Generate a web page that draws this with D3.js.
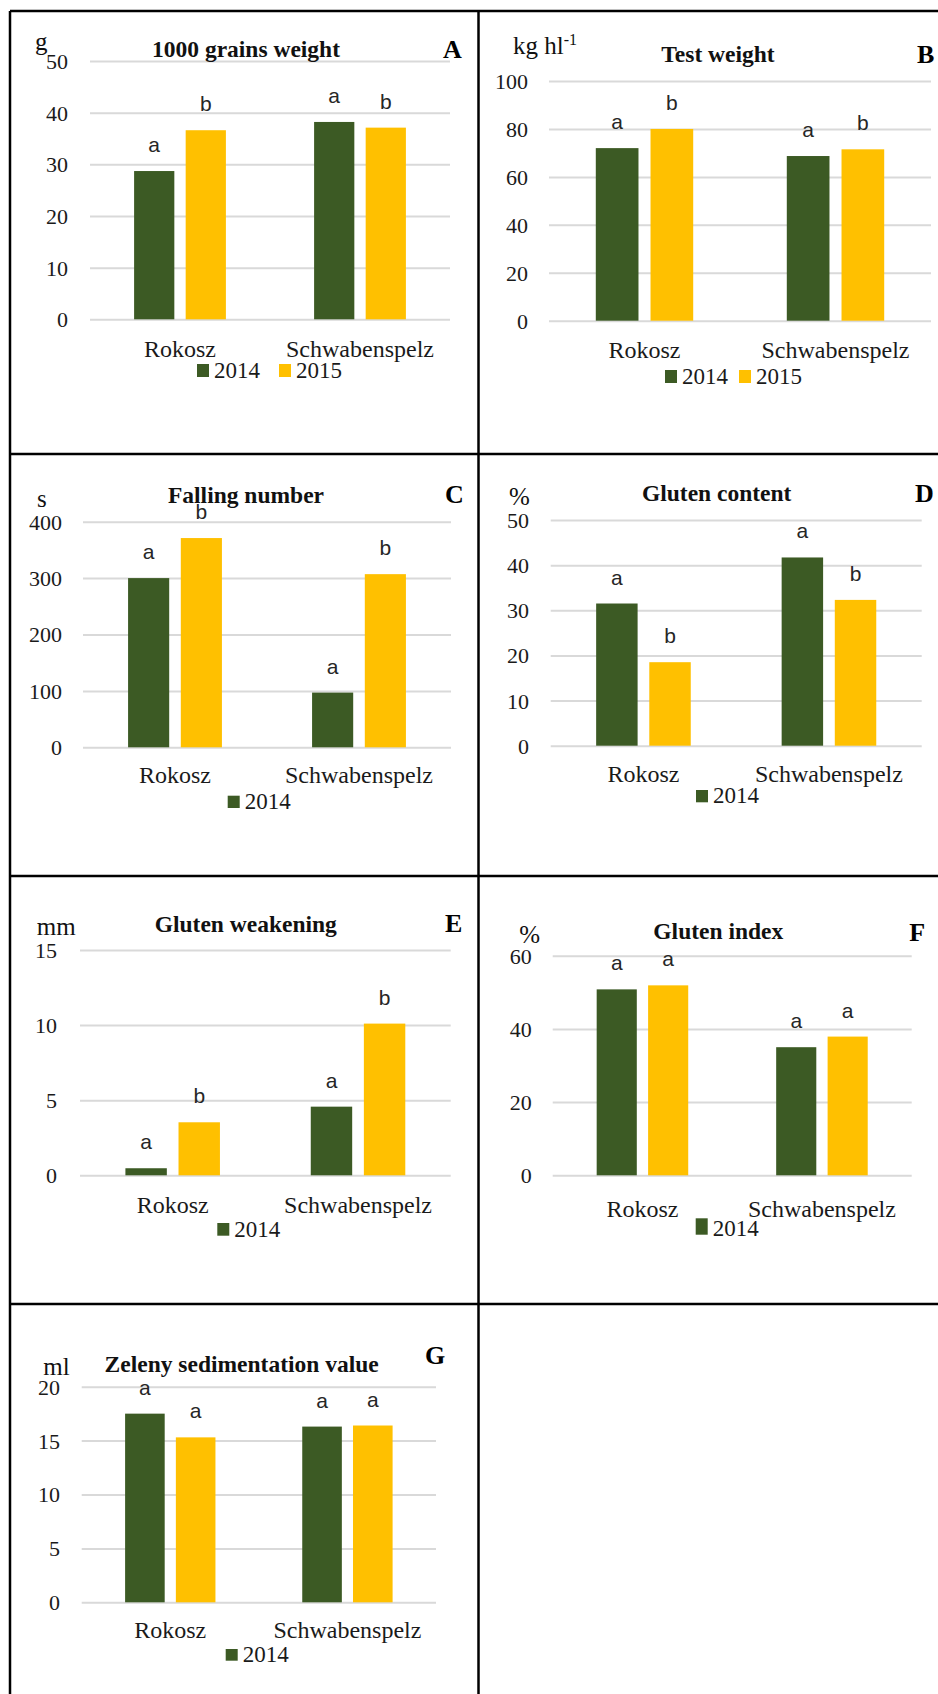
<!DOCTYPE html>
<html>
<head>
<meta charset="utf-8">
<script src="https://cdn.jsdelivr.net/npm/d3@7"></script>
<style>
  html, body { margin: 0; padding: 0; background: #fff; }
  svg { display: block; }
</style>
</head>
<body>
<div id="chart"></div>
<script>
// ---------------- DATA ----------------
const categories = ["Rokosz", "Schwabenspelz"];
const years = ["2014", "2015"];

const grains2014 = [28.7, 38.2];
const grains2015 = [36.6, 37.1];
const grainsSig2014 = ["a", "a"];
const grainsSig2015 = ["b", "b"];
const grainsTicks = [0, 10, 20, 30, 40, 50];

const testWeight2014 = [72.0, 68.7];
const testWeight2015 = [80.0, 71.5];
const testWeightSig2014 = ["a", "a"];
const testWeightSig2015 = ["b", "b"];
const testWeightTicks = [0, 20, 40, 60, 80, 100];

const falling2014 = [300, 97];
const falling2015 = [371, 307];
const fallingSig2014 = ["a", "a"];
const fallingSig2015 = ["b", "b"];
const fallingTicks = [0, 100, 200, 300, 400];

const glutenContent2014 = [31.5, 41.7];
const glutenContent2015 = [18.5, 32.3];
const glutenContentSig2014 = ["a", "a"];
const glutenContentSig2015 = ["b", "b"];
const glutenContentTicks = [0, 10, 20, 30, 40, 50];

const weakening2014 = [0.47, 4.57];
const weakening2015 = [3.53, 10.1];
const weakeningSig2014 = ["a", "a"];
const weakeningSig2015 = ["b", "b"];
const weakeningTicks = [0, 5, 10, 15];

const glutenIndex2014 = [50.8, 35.0];
const glutenIndex2015 = [51.9, 37.9];
const glutenIndexSig2014 = ["a", "a"];
const glutenIndexSig2015 = ["a", "a"];
const glutenIndexTicks = [0, 20, 40, 60];

const zeleny2014 = [17.5, 16.3];
const zeleny2015 = [15.3, 16.4];
const zelenySig2014 = ["a", "a"];
const zelenySig2015 = ["a", "a"];
const zelenyTicks = [0, 5, 10, 15, 20];

const legendTwo = ["2014", "2015"];
const legendOne = ["2014"];

// ---------------- STYLE ----------------
const W = 938, H = 1694;
const colors = { "2014": "#3C5A24", "2015": "#FFC000" };
const serif = "'Liberation Serif', 'Times New Roman', serif";
const sans = "'Liberation Sans', Arial, sans-serif";
const gridColor = "#D9D9D9";

// ---------------- LAYOUT (per panel) ----------------
const panels = [
  { title: "1000 grains weight", unit: "g", letter: "A",
    v: [grains2014, grains2015], sig: [grainsSig2014, grainsSig2015], ticks: grainsTicks, legend: legendTwo,
    x0: 90, x1: 450, yTop: 61, yBot: 319.3, tickX: 68,
    titleX: 246, titleY: 57, unitX: 35, unitY: 50, letterX: 443, letterY: 58,
    catY: 357, legX: [197, 279], legTop: 364, legBase: 378 },
  { title: "Test weight", unit: "kg hl", unitSup: "-1", letter: "B",
    v: [testWeight2014, testWeight2015], sig: [testWeightSig2014, testWeightSig2015], ticks: testWeightTicks, legend: legendTwo,
    x0: 549, x1: 931, yTop: 81, yBot: 320.7, tickX: 528,
    titleX: 718, titleY: 61.5, unitX: 513, unitY: 53.5, letterX: 917, letterY: 63,
    catY: 358, legX: [665, 739], legTop: 370, legBase: 384 },
  { title: "Falling number", unit: "s", letter: "C",
    v: [falling2014, falling2015], sig: [fallingSig2014, fallingSig2015], ticks: fallingTicks, legend: legendOne,
    x0: 83, x1: 451, yTop: 521.7, yBot: 747.3, tickX: 62,
    titleX: 246, titleY: 503, unitX: 37, unitY: 506.5, letterX: 445, letterY: 503,
    catY: 783, legX: [227.7], legTop: 795.7, legBase: 809 },
  { title: "Gluten content", unit: "%", letter: "D",
    v: [glutenContent2014, glutenContent2015], sig: [glutenContentSig2014, glutenContentSig2015], ticks: glutenContentTicks, legend: legendOne,
    x0: 550.7, x1: 921.7, yTop: 520, yBot: 745.7, tickX: 529,
    titleX: 716.7, titleY: 500.5, unitX: 509, unitY: 505, letterX: 915, letterY: 501.7,
    catY: 781.7, legX: [696], legTop: 790, legBase: 803.3 },
  { title: "Gluten weakening", unit: "mm", letter: "E",
    v: [weakening2014, weakening2015], sig: [weakeningSig2014, weakeningSig2015], ticks: weakeningTicks, legend: legendOne,
    x0: 80, x1: 450.7, yTop: 950, yBot: 1175.3, tickX: 57,
    titleX: 245.8, titleY: 931.7, unitX: 36.7, unitY: 935, letterX: 445, letterY: 931.7,
    catY: 1212.7, legX: [217.3], legTop: 1223, legBase: 1236.7 },
  { title: "Gluten index", unit: "%", letter: "F",
    v: [glutenIndex2014, glutenIndex2015], sig: [glutenIndexSig2014, glutenIndexSig2015], ticks: glutenIndexTicks, legend: legendOne,
    x0: 552.7, x1: 911.7, yTop: 955.7, yBot: 1175.3, tickX: 531.7,
    titleX: 718.3, titleY: 939, unitX: 519.3, unitY: 943.3, letterX: 909.3, letterY: 941,
    catY: 1216.7, legX: [695.7], legTop: 1218.3, legBase: 1235.7 },
  { title: "Zeleny sedimentation value", unit: "ml", letter: "G",
    v: [zeleny2014, zeleny2015], sig: [zelenySig2014, zelenySig2015], ticks: zelenyTicks, legend: legendOne,
    x0: 81.7, x1: 436, yTop: 1386.7, yBot: 1602.3, tickX: 60,
    titleX: 241.7, titleY: 1371.7, unitX: 43.3, unitY: 1375, letterX: 425, letterY: 1364.3,
    catY: 1638.3, legX: [225.7], legTop: 1649, legBase: 1661.7 }
];

// ---------------- DRAW ----------------
const svg = d3.select("#chart").append("svg")
  .attr("width", W).attr("height", H)
  .attr("viewBox", `0 0 ${W} ${H}`);

svg.append("rect").attr("width", W).attr("height", H).attr("fill", "#fff");

// table frame
const frame = svg.append("g").attr("stroke", "#000").attr("stroke-width", 2.5);
frame.append("line").attr("x1", 10).attr("x2", W).attr("y1", 11).attr("y2", 11);
frame.append("line").attr("x1", 10).attr("x2", 10).attr("y1", 11).attr("y2", H);
frame.append("line").attr("x1", 478.5).attr("x2", 478.5).attr("y1", 11).attr("y2", H);
[454, 876, 1304].forEach(y =>
  frame.append("line").attr("x1", 10).attr("x2", W).attr("y1", y).attr("y2", y));

panels.forEach(p => {
  const g = svg.append("g");
  const yMax = p.ticks[p.ticks.length - 1];
  const y = d3.scaleLinear().domain([0, yMax]).range([p.yBot, p.yTop]);
  const x = d3.scaleBand().domain(categories).range([p.x0, p.x1])
    .paddingInner(0.49).paddingOuter(0.245);
  const xi = d3.scaleBand().domain(years).range([0, x.bandwidth()])
    .paddingInner(0.22).paddingOuter(0);

  // gridlines + tick labels via axis
  const axis = d3.axisLeft(y).tickValues(p.ticks)
    .tickSize(-(p.x1 - p.x0)).tickPadding(p.x0 - p.tickX).tickFormat(d3.format("d"));
  const ag = g.append("g").attr("transform", `translate(${p.x0},0)`).call(axis);
  ag.select(".domain").remove();
  ag.selectAll(".tick line").attr("stroke", gridColor).attr("stroke-width", 2);
  ag.selectAll(".tick text")
    .attr("font-family", serif).attr("font-size", 22).attr("fill", "#1a1a1a")
    .attr("dy", "0.34em");

  // bars
  const rows = [];
  categories.forEach((c, ci) => years.forEach((yr, yi) =>
    rows.push({ c, yr, val: p.v[yi][ci], sig: p.sig[yi][ci] })));

  g.selectAll("rect.bar").data(rows).enter().append("rect")
    .attr("class", "bar")
    .attr("x", d => x(d.c) + xi(d.yr))
    .attr("width", xi.bandwidth())
    .attr("y", d => y(d.val))
    .attr("height", d => y(0) - y(d.val))
    .attr("fill", d => colors[d.yr]);

  // significance letters
  g.selectAll("text.sig").data(rows).enter().append("text")
    .attr("class", "sig")
    .attr("x", d => x(d.c) + xi(d.yr) + xi.bandwidth() / 2)
    .attr("y", d => y(d.val) - 19)
    .attr("text-anchor", "middle")
    .attr("font-family", sans).attr("font-size", 21).attr("fill", "#262626")
    .text(d => d.sig);

  // category labels
  g.selectAll("text.cat").data(categories).enter().append("text")
    .attr("class", "cat")
    .attr("x", d => x(d) + x.bandwidth() / 2)
    .attr("y", p.catY)
    .attr("text-anchor", "middle")
    .attr("font-family", serif).attr("font-size", 24).attr("fill", "#1a1a1a")
    .text(d => d);

  // title
  g.append("text").attr("x", p.titleX).attr("y", p.titleY)
    .attr("text-anchor", "middle")
    .attr("font-family", serif).attr("font-weight", "bold").attr("font-size", 23.5)
    .attr("fill", "#111")
    .text(p.title);

  // unit
  const ut = g.append("text").attr("x", p.unitX).attr("y", p.unitY)
    .attr("font-family", serif).attr("font-size", 25).attr("fill", "#111")
    .text(p.unit);
  if (p.unitSup) {
    ut.append("tspan").attr("dy", -9).attr("font-size", 16).text(p.unitSup);
  }

  // panel letter
  g.append("text").attr("x", p.letterX).attr("y", p.letterY)
    .attr("font-family", serif).attr("font-weight", "bold").attr("font-size", 26)
    .attr("fill", "#000")
    .text(p.letter);

  // legend
  const sw = p.legBase - p.legTop - 1;
  const lg = g.selectAll("g.leg").data(p.legend).enter().append("g").attr("class", "leg");
  lg.append("rect")
    .attr("x", (d, i) => p.legX[i]).attr("y", p.legTop)
    .attr("width", 12).attr("height", sw)
    .attr("fill", d => colors[d]);
  lg.append("text")
    .attr("x", (d, i) => p.legX[i] + 17).attr("y", p.legBase)
    .attr("font-family", serif).attr("font-size", 23).attr("fill", "#1a1a1a")
    .text(d => d);
});
</script>
</body>
</html>
